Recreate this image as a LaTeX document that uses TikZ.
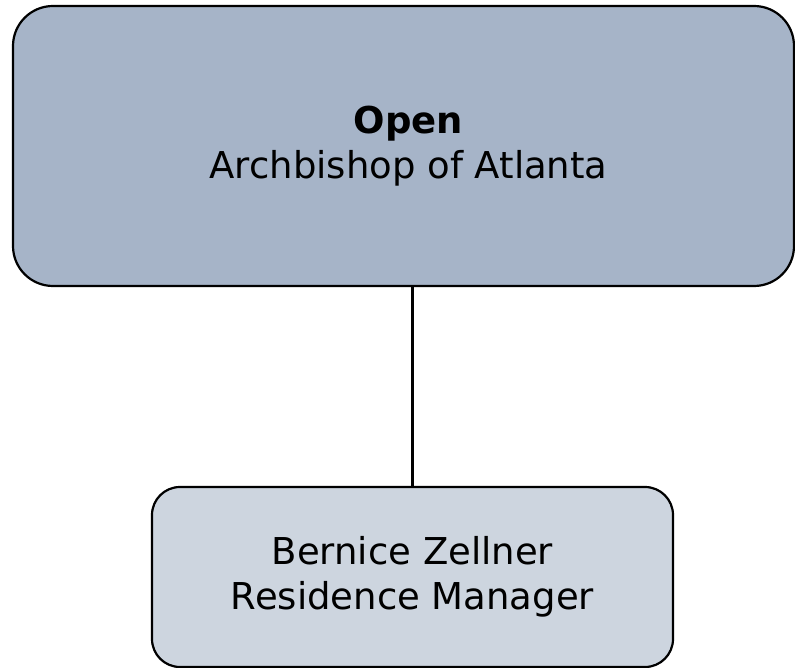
\documentclass[tikz,border=0pt]{standalone}
\usepackage{fontspec}
\setmainfont{DejaVu Sans}
\usepackage{tikz}
\definecolor{headFill}{HTML}{A6B4C8}
\definecolor{staffFill}{HTML}{CDD5DF}

\begin{document}
\begin{tikzpicture}[
    x=1pt,
    y=-1pt,
    box_style/.style={rectangle, draw, black, line width=2.2pt, align=center, text=black,
        font=\fontsize{37}{45}\selectfont, inner sep=0pt},
    head_box/.style={box_style, fill=headFill, rounded corners=40pt, minimum width=781pt, minimum height=280pt},
    staff_box/.style={box_style, fill=staffFill, rounded corners=28pt, minimum width=521pt, minimum height=180pt},
    edge_style/.style={draw, black, line width=2.2pt}
]
  \useasboundingbox (0,0) rectangle (795,668);
  % Org chart boxes
  \node[head_box] (head) at (403.5, 146) {\hspace*{10pt}\textbf{Open}\\\hspace*{10pt}Archbishop of Atlanta};
  \node[staff_box] (staff) at (412.5, 577) {Bernice Zellner\\Residence Manager};
  % Reporting line
  \draw[edge_style] (staff.north) -- (staff.north |- head.south);
\end{tikzpicture}
\end{document}
